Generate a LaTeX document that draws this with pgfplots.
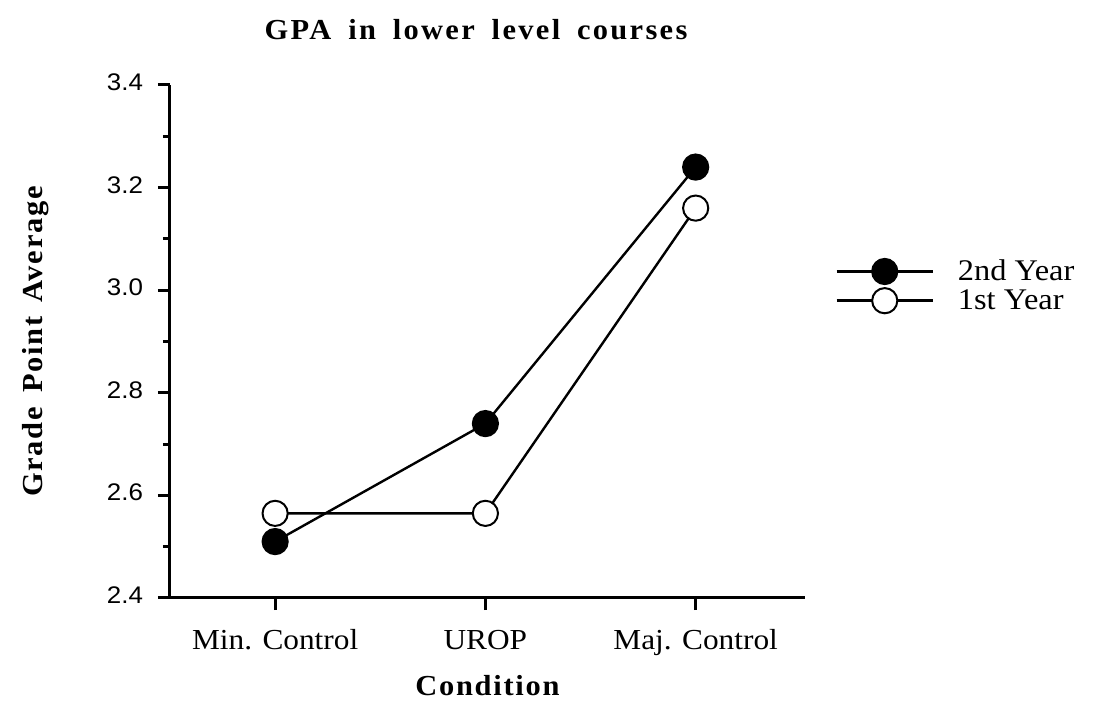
\documentclass[border=0pt]{standalone}
\usepackage{fontspec}
\setmainfont{Liberation Serif}[FakeStretch=1.08]
\newfontfamily\tickfont{Liberation Sans}[FakeStretch=1.08]
\newfontfamily\titlefont{Liberation Serif}[FakeStretch=1.05, LetterSpace=8, WordSpace=1.7]
\newfontfamily\labelfont{Liberation Serif}[FakeStretch=1.05, LetterSpace=6, WordSpace=1.5]
\usepackage{pgfplots}
\pgfplotsset{compat=1.18}
\begin{document}
\begin{tikzpicture}
\begin{axis}[
  scale only axis,
  width=317.5pt, height=256.5pt,
  xmin=-0.5, xmax=2.52,
  ymin=2.4, ymax=3.4,
  axis x line=bottom, axis y line=left,
  axis line style={-, line width=1.5pt},
  xtick={0,1,2},
  xticklabels={Min. Control, UROP, Maj. Control},
  ytick={2.4,2.6,2.8,3.0,3.2,3.4},
  minor y tick num=1,
  tick align=outside,
  major tick length=6pt,
  minor tick length=3.5pt,
  tick style={line width=1.5pt, black},
  /pgf/number format/.cd, fixed, fixed zerofill, precision=1, assume math mode=true,
  /pgfplots/.cd,
  yticklabel style={font=\tickfont\fontsize{12}{14}\selectfont, xshift=-4pt},
  typeset ticklabels with strut,
  xticklabel style={font=\fontsize{14.5}{16}\selectfont, yshift=-5pt},
  title={\titlefont\bfseries GPA in lower level courses},
  title style={at={(axis description cs:0.482,1.084)}, anchor=center, font=\fontsize{14.5}{16}\selectfont},
  xlabel={\labelfont\bfseries Condition},
  xlabel style={at={(axis description cs:0.5,-0.1715)}, anchor=center, font=\fontsize{14.5}{16}\selectfont},
  ylabel={\labelfont\bfseries Grade Point Average},
  ylabel style={at={(axis description cs:-0.212,0.5)}, anchor=center, rotate=0, font=\fontsize{14.5}{16}\selectfont},
  clip=false,
  legend cell align=left,
  legend image code/.code={\draw[#1] (0pt,0pt) -- (48pt,0pt);
    \draw[#1, only marks] plot coordinates {(24pt,0pt)};},
  legend style={at={(axis description cs:1.038,0.608)}, anchor=west, draw=none, fill=none,
    font=\fontsize{15}{17}\selectfont, column sep=12pt, row sep=2pt,
    nodes={inner sep=0pt}},
]
\addplot[black, line width=1.2pt, mark=*, mark size=6.3pt, mark options={solid, fill=black, line width=1pt}]
  coordinates {(0,2.51) (1,2.74) (2,3.24)};
\addlegendentry{2nd Year}
\addplot[black, line width=1.2pt, mark=*, mark size=6.3pt, mark options={solid, fill=white, line width=1pt}]
  coordinates {(0,2.565) (1,2.565) (2,3.16)};
\addlegendentry{1st Year}
\end{axis}
\pgfresetboundingbox
\path (current axis.south west) ++(-85pt,-56pt) rectangle ++(547.5pt,355pt);
\end{tikzpicture}
\end{document}
